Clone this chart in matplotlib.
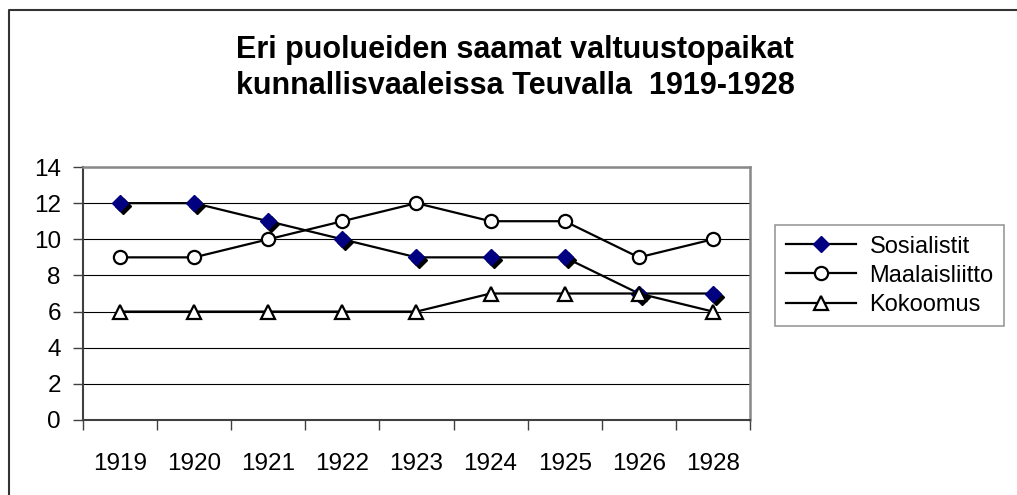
import matplotlib.pyplot as plt
from matplotlib.lines import Line2D
from matplotlib.transforms import offset_copy

plt.rcParams['font.family'] = ['Liberation Sans', 'DejaVu Sans']

# --- data ---
vuodet = ['1919', '1920', '1921', '1922', '1923', '1924', '1925', '1926', '1928']
sosialistit = [12, 12, 11, 10, 9, 9, 9, 7, 7]
maalaisliitto = [9, 9, 10, 11, 12, 11, 11, 9, 10]
kokoomus = [6, 6, 6, 6, 6, 7, 7, 7, 6]

W, H = 1017, 495
fig = plt.figure(figsize=(W / 100, H / 100), dpi=100)
ax = fig.add_axes([83 / W, 1 - 420 / H, (750 - 83) / W, (420 - 167) / H])

x = list(range(len(vuodet)))

# varjo vinoneliöille
varjo = offset_copy(ax.transData, fig=fig, x=3, y=-3, units='dots')
ax.plot(x, sosialistit, linestyle='none', marker='D', markersize=8.5,
        color='black', transform=varjo, zorder=3)
ax.plot(x, sosialistit, color='black', lw=1.6, marker='D', markersize=8.5,
        markerfacecolor='#000080', markeredgecolor='#000080', label='Sosialistit', zorder=4)
ax.plot(x, maalaisliitto, color='black', lw=1.6, marker='o', markersize=9.5,
        markerfacecolor='white', markeredgecolor='black', markeredgewidth=1.6,
        label='Maalaisliitto', zorder=4)
ax.plot(x, kokoomus, color='black', lw=1.6, marker='^', markersize=10,
        markerfacecolor='white', markeredgecolor='black', markeredgewidth=1.6,
        label='Kokoomus', zorder=4)

ax.set_xlim(-0.5, len(vuodet) - 0.5)
ax.set_ylim(0, 14)
ax.set_yticks(range(0, 15, 2))
ax.set_xticks(x)
ax.set_xticklabels(vuodet)
ax.set_xticks([i + 0.5 for i in range(-1, len(vuodet))], minor=True)
ax.tick_params(axis='x', which='major', length=0, pad=24, labelsize=17.5)
ax.tick_params(axis='x', which='minor', length=7, width=1, color='#404040')
ax.tick_params(axis='y', length=7, width=1, color='#404040', pad=9, labelsize=17.5)

ax.grid(axis='y', color='black', lw=0.8)
ax.set_axisbelow(True)
for s in ['left', 'bottom']:
    ax.spines[s].set_color('#404040')
    ax.spines[s].set_linewidth(1.5)
for s in ['top', 'right']:
    ax.spines[s].set_color('#888888')
    ax.spines[s].set_linewidth(1.8)

fig.text(515 / W, 1 - 68 / H, 'Eri puolueiden saamat valtuustopaikat\nkunnallisvaaleissa Teuvalla  1919-1928',
         ha='center', va='center', fontsize=22, fontweight='bold', linespacing=1.22)

leg = fig.legend(loc='upper left', bbox_to_anchor=(775 / W, 1 - 225 / H),
                 fontsize=17, frameon=True, fancybox=False, edgecolor='#808080',
                 handlelength=3.0, handletextpad=0.55, labelspacing=0.3,
                 borderpad=0.45, borderaxespad=0)
leg.get_frame().set_linewidth(1.2)

# ulkoreunus
fig.add_artist(Line2D([9 / W, 9 / W, 1.05], [-0.05, 1 - 10 / H, 1 - 10 / H],
                      transform=fig.transFigure, color='#333333', lw=1.5))

fig.savefig('out.png', dpi=100)
